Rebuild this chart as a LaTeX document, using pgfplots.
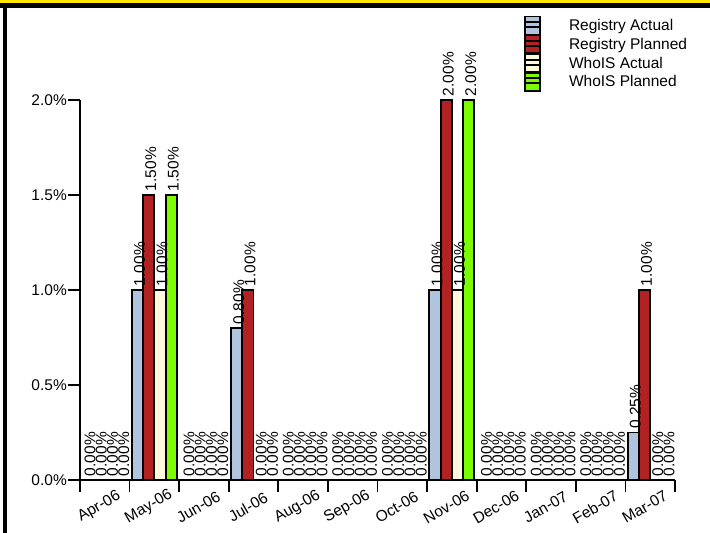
\documentclass[border=0pt]{standalone}
\usepackage{pgfplots}
\pgfplotsset{compat=1.18}
\usepackage{pgfplotstable}
\usepackage{fontspec}
\setmainfont{Liberation Sans}

\definecolor{regact}{RGB}{176,196,222}
\definecolor{regplan}{RGB}{178,34,34}
\definecolor{whoact}{RGB}{255,248,220}
\definecolor{whoplan}{RGB}{124,252,0}
\definecolor{topyel}{RGB}{255,230,0}
\newcommand\lab{\fontsize{15.5}{18}\selectfont}

% month index, registry actual/planned, whois actual/planned (in %)
\pgfplotstableread{
x  ra   rp   wa   wp
0  0    0    0    0
1  1.0  1.5  1.0  1.5
2  0    0    0    0
3  0.8  1.0  0    0
4  0    0    0    0
5  0    0    0    0
6  0    0    0    0
7  1.0  2.0  1.0  2.0
8  0    0    0    0
9  0    0    0    0
10 0    0    0    0
11 0.25 1.0  0    0
}\data

\begin{document}
\begin{tikzpicture}
\path[use as bounding box] (0,0) rectangle (710pt,533pt);
\begin{axis}[
    scale only axis,
    width=595pt, height=380pt,
    at={(80pt,53pt)}, anchor=south west,
    xmin=-0.5, xmax=11.5, ymin=0, ymax=2,
    axis lines=left,
    axis line style={-, line width=1.8pt},
    clip=false,
    ybar=0pt, bar width=11.25pt,
    font=\lab,
    /pgf/number format/assume math mode=true,
    tick align=outside,
    major tick length=12pt,
    tick style={black, line width=1.8pt},
    ytick={0,0.5,1,1.5,2},
    yticklabel={\pgfmathprintnumber[fixed,fixed zerofill,precision=1]{\tick}\%},
    yticklabel style={anchor=east, inner sep=1pt},
    % ticks sit on the month boundaries, names are moved to the middle
    xtick={-0.5,0.5,...,11.5},
    xticklabels={Apr-06,May-06,Jun-06,Jul-06,Aug-06,Sep-06,Oct-06,Nov-06,Dec-06,Jan-07,Feb-07,Mar-07,{}},
    xticklabel style={xshift=19.3pt, yshift=-15pt, rotate=30, anchor=center},
    every axis plot/.append style={draw=black, line width=1.8pt},
    every axis plot post/.append style={
        legend image code/.code={
            \draw[#1, overlay] (0pt,-7.3pt) rectangle (15pt,10.7pt);
            \path (0pt,0pt) rectangle (15pt,5pt);
        }
    },
    nodes near coords={\pgfmathprintnumber[fixed,fixed zerofill,precision=2]{\pgfplotspointmeta}\%},
    nodes near coords style={xshift=2pt, rotate=90, anchor=west, font=\lab, inner xsep=3pt, inner ysep=0pt, black},
    legend style={at={(0.7454,1.2166)}, anchor=north west, draw=none, fill=none,
        inner sep=0pt, row sep=0pt, column sep=28.5pt, font=\lab,
        nodes={inner sep=0pt, text height=13pt, text depth=5.7pt}},
    legend cell align=left,
]
\addplot[fill=regact] table[x=x, y=ra] {\data};
\addplot[fill=regplan] table[x=x, y=rp] {\data};
\addplot[fill=whoact] table[x=x, y=wa] {\data};
\addplot[fill=whoplan] table[x=x, y=wp] {\data};
\legend{Registry Actual, Registry Planned, WhoIS Actual, WhoIS Planned}
\end{axis}
\fill[topyel] (0,529.7pt) rectangle (710pt,533pt);
\fill[black] (0,524.7pt) rectangle (710pt,529.7pt);
\fill[black] (3pt,0) rectangle (7.3pt,524.7pt);
\end{tikzpicture}
\end{document}
